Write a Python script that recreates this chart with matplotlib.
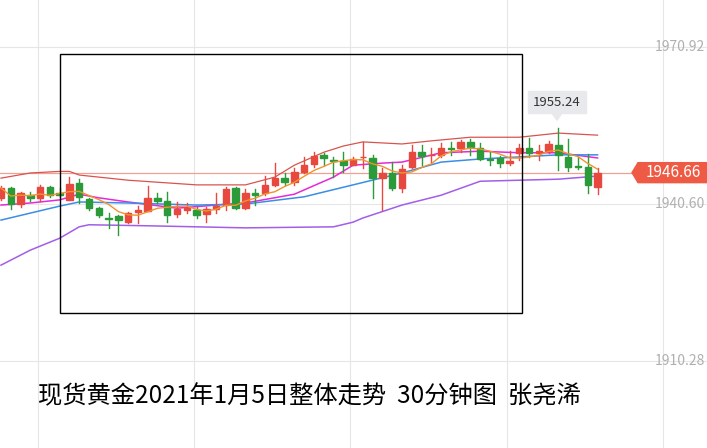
import matplotlib
matplotlib.use("Agg")
import matplotlib.pyplot as plt
import numpy as np
import pandas as pd
from matplotlib.patches import Rectangle, Polygon

plt.rcParams['font.family'] = ['Noto Sans CJK SC', 'DejaVu Sans']

opens  = [1941.8,1943.7,1940.6,1942.4,1941.8,1943.9,1942.8,1941.4,1944.7,1941.6,1939.9,1938.0,1938.3,1937.2,1939.1,1939.3,1941.8,1941.2,1938.7,1939.5,1939.5,1938.7,1939.7,1940.4,1943.7,1939.9,1942.7,1942.7,1944.3,1945.6,1944.9,1946.8,1948.3,1950.1,1949.1,1948.9,1948.2,1949.6,1949.5,1945.6,1946.6,1943.7,1947.8,1950.7,1950.0,1950.1,1951.4,1951.4,1952.6,1951.4,1949.3,1949.5,1948.5,1950.5,1951.4,1950.5,1950.9,1952.0,1949.7,1947.9,1947.8,1943.9]
closes = [1943.7,1940.6,1942.7,1941.8,1943.9,1942.4,1942.4,1944.5,1942.0,1939.9,1938.5,1937.8,1937.5,1938.9,1939.5,1941.8,1941.2,1938.5,1939.7,1939.9,1938.5,1939.7,1940.2,1943.5,1939.9,1942.7,1942.4,1944.3,1945.6,1944.9,1946.8,1948.2,1949.9,1949.5,1949.0,1948.2,1949.3,1949.7,1945.6,1946.6,1943.7,1947.4,1950.7,1949.9,1950.1,1951.4,1951.3,1952.6,1951.6,1949.3,1949.2,1948.5,1948.9,1951.4,1950.5,1950.9,1952.2,1950.1,1947.8,1947.8,1944.3,1946.66]
highs  = [1944.1,1943.9,1942.9,1942.9,1944.3,1944.1,1943.7,1945.8,1945.5,1941.8,1940.0,1938.9,1938.5,1939.1,1940.2,1944.1,1942.8,1942.9,1941.0,1940.8,1940.0,1940.0,1942.7,1943.9,1943.9,1943.5,1943.5,1946.0,1948.5,1946.6,1947.6,1949.7,1950.7,1950.5,1949.7,1950.7,1949.7,1952.6,1950.1,1947.6,1948.7,1948.2,1952.0,1952.0,1951.4,1952.4,1952.6,1953.0,1953.2,1952.4,1950.7,1949.9,1950.9,1952.2,1953.4,1952.0,1952.8,1955.24,1953.2,1949.7,1950.3,1947.6]
lows   = [1941.4,1939.6,1940.0,1941.2,1941.2,1942.0,1942.0,1941.4,1940.8,1939.5,1938.1,1936.0,1934.6,1937.0,1937.0,1939.3,1940.8,1937.2,1938.1,1938.9,1937.9,1937.2,1938.9,1939.5,1939.7,1939.7,1940.4,1942.4,1944.1,1944.3,1944.3,1946.6,1947.8,1948.2,1945.8,1946.8,1948.2,1947.6,1941.8,1939.5,1943.3,1942.9,1947.6,1948.2,1948.7,1949.7,1950.1,1950.7,1950.1,1949.1,1948.2,1947.8,1948.2,1949.1,1949.7,1949.1,1950.5,1947.2,1947.0,1947.4,1942.8,1942.6]

upper_idx = [0,3,6,7,8,13,20,25,28,30,33,35,37,41,44,48,53,57,61]
upper_val = [1945.6,1946.6,1946.9,1946.9,1946.2,1945.2,1944.3,1944.3,1945.8,1948.1,1950.6,1951.8,1952.6,1952.2,1952.8,1953.5,1953.5,1954.3,1953.9]
lower_idx = [0,3,6,8,9,15,25,34,36,37,41,45,49,53,57,61]
lower_val = [1928.8,1931.7,1934.0,1936.2,1936.6,1936.4,1936.0,1936.2,1937.1,1937.9,1940.4,1942.3,1945.0,1945.2,1945.4,1946.0]
blue_idx = [0,6,8,13,20,25,31,36,41,45,49,53,57,61]
blue_val = [1937.5,1940.2,1941.0,1940.8,1940.4,1940.6,1942.0,1944.3,1946.6,1948.7,1949.3,1949.7,1950.1,1950.1]
mag_idx = [0,3,6,8,10,13,18,22,25,30,34,36,39,41,45,49,53,57,61]
mag_val = [1940.4,1940.8,1941.4,1942.5,1941.8,1941.0,1939.8,1940.4,1940.8,1942.5,1945.8,1948.1,1948.5,1948.7,1950.5,1950.8,1950.5,1950.5,1949.5]

axis_labels = [1970.92, 1940.60, 1910.28]
last_price = 1946.66
peak_price = 1955.24
title = "现货黄金2021年1月5日整体走势  30分钟图  张尧浠"

W, H = 707, 448
fig = plt.figure(figsize=(W/100, H/100), dpi=100)
ax = fig.add_axes([0, 0, 1, 1])
step = 9.78
ax.set_xlim(0, W/step)
ax.set_ylim(1980 - 0.1931*H, 1980)
ax.axis('off')

for v in axis_labels:
    ax.axhline(v, color='#e6e6e6', lw=0.8, zorder=0)
for px in [38, 194, 350, 507, 663]:
    ax.axvline(px/step, color='#e6e6e6', lw=0.8, zorder=0)

red = '#e8493f'; green = '#2a9a3a'
n = len(opens)
x = np.arange(n) + 0.1
for i in range(n):
    o, c, h, l = opens[i], closes[i], highs[i], lows[i]
    col = red if c >= o else green
    ax.plot([x[i], x[i]], [l, h], color=col, lw=1, zorder=3)
    lo = min(o, c); hgt = max(abs(c-o), 0.15)
    ax.add_patch(Rectangle((x[i]-0.33, lo), 0.66, hgt, color=col, zorder=4))

ma5 = pd.Series(closes).rolling(5, min_periods=1).mean()
ax.plot(x, ma5, color='#f0932b', lw=1, zorder=5)
ax.plot(np.array(mag_idx)+0.1, mag_val, color='#e629d8', lw=1.1, zorder=2)
ax.plot(np.array(blue_idx)+0.1, blue_val, color='#3a8ee6', lw=1.1, zorder=2)
ax.plot(np.array(upper_idx)+0.1, upper_val, color='#d9534f', lw=0.9, zorder=2)
ax.plot(np.array(lower_idx)+0.1, lower_val, color='#a25ee8', lw=1.1, zorder=2)

ax.axhline(last_price, color='#f0a090', lw=0.9, zorder=1)

for v in axis_labels:
    ax.text(705/step, v, f"{v:.2f}", ha='right', va='center', fontsize=10, color='#b0b0b0', zorder=6)

x0, x1 = 638/step, 707/step
yc = last_price; hh = 0.193*10
ax.add_patch(Polygon([[x0-6/step, yc], [x0, yc+hh], [x1, yc+hh], [x1, yc-hh], [x0, yc-hh]],
                     closed=True, color='#ee5a44', zorder=7))
ax.text((x0+x1)/2+0.1, yc, f"{last_price:.2f}", ha='center', va='center', fontsize=11, color='white', zorder=8)

px = 557/step
by0 = peak_price + 0.193*15; by1 = by0 + 0.193*22
ax.add_patch(Rectangle((528/step, by0), 58/step, by1-by0, color='#e8e9ec', zorder=7))
ax.add_patch(Polygon([[px-5/step, by0], [px+5/step, by0], [px, by0-0.193*7]], color='#e8e9ec', zorder=7))
ax.text(557/step, (by0+by1)/2, f"{peak_price:.2f}", ha='center', va='center', fontsize=9.5, color='#333333', zorder=8)

ax.add_patch(Rectangle((60/step, 1980-0.1931*313), 462/step, 0.1931*259, fill=False, ec='black', lw=1, zorder=9))

fig.text(38/W, 1-396/H, title, fontsize=17.5, color='black', va='center', ha='left')

fig.savefig('out.png', dpi=100)
